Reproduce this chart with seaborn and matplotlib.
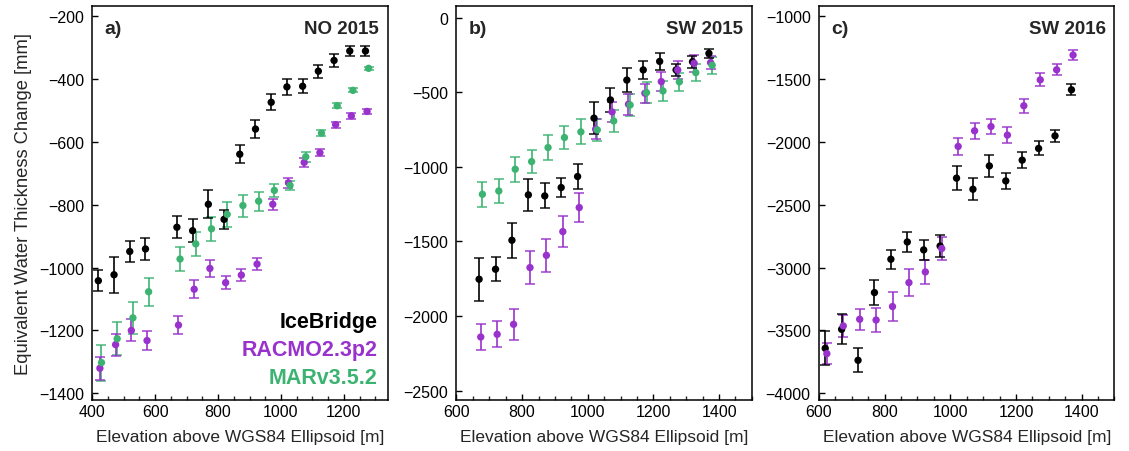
import numpy as np
import pandas as pd
import matplotlib
matplotlib.use("Agg")
import matplotlib.pyplot as plt
from matplotlib.ticker import MultipleLocator
import seaborn as sns

# ---- data ----
# panel a) NO 2015
elev_a = [425, 475, 525, 575, 675, 725, 775, 825, 875, 925, 975, 1025, 1075, 1125, 1175, 1225, 1275]
ice_a = [-1042, -1023, -949, -941, -872, -883, -799, -847, -640, -560, -475, -426, -424, -376, -342, -312, -312]
ice_a_err = [33, 58, 33, 35, 35, 37, 44, 29, 29, 29, 25, 25, 22, 21, 20, 16, 17]
rac_a = [-1320, -1245, -1200, -1232, -1183, -1069, -1003, -1048, -1024, -989, -799, -731, -666, -635, -546, -518, -504]
rac_a_err = [37, 35, 35, 31, 29, 28, 26, 21, 19, 19, 17, 15, 15, 12, 10, 10, 8]
mar_a = [-1302, -1226, -1160, -1077, -973, -925, -877, -831, -803, -789, -755, -739, -648, -573, -486, -437, -367]
mar_a_err = [57, 53, 50, 44, 39, 39, 39, 39, 35, 30, 20, 15, 16, 10, 8, 6, 5]

# panel b) SW 2015
elev_b = [675, 725, 775, 825, 875, 925, 975, 1025, 1075, 1125, 1175, 1225, 1275, 1325, 1375]
ice_b = [-1753, -1686, -1492, -1188, -1195, -1139, -1065, -674, -552, -419, -351, -294, -351, -296, -240]
ice_b_err = [145, 80, 117, 109, 84, 61, 86, 109, 79, 82, 60, 58, 41, 41, 29]
rac_b = [-2140, -2122, -2055, -1675, -1593, -1434, -1273, -748, -632, -581, -507, -429, -351, -306, -302]
rac_b_err = [87, 87, 103, 109, 109, 104, 95, 69, 69, 69, 65, 61, 58, 58, 45]
mar_b = [-1184, -1162, -1016, -965, -871, -804, -766, -753, -693, -586, -503, -492, -431, -369, -320]
mar_b_err = [83, 83, 85, 78, 83, 78, 83, 76, 74, 72, 69, 67, 59, 59, 56]

# panel c) SW 2016
elev_c = [625, 675, 725, 775, 825, 875, 925, 975, 1025, 1075, 1125, 1175, 1225, 1275, 1325, 1375]
ice_c = [-3642, -3491, -3737, -3199, -2934, -2797, -2860, -2829, -2290, -2378, -2193, -2312, -2147, -2054, -1954, -1588]
ice_c_err = [135, 119, 95, 99, 77, 80, 78, 86, 94, 86, 85, 66, 62, 56, 49, 44]
rac_c = [-3684, -3464, -3411, -3417, -3310, -3120, -3035, -2849, -2038, -1914, -1880, -1948, -1715, -1509, -1429, -1312]
rac_c_err = [86, 85, 85, 97, 113, 106, 95, 89, 70, 64, 62, 62, 57, 52, 45, 41]

colors = {"IceBridge": "black", "RACMO2.3p2": "#9932CC", "MARv3.5.2": "#3CB371"}
offsets = {"IceBridge": -6, "RACMO2.3p2": -1, "MARv3.5.2": 4}


def make_df(elev, series):
    rows = []
    for name, (vals, errs) in series.items():
        for e, v, s in zip(elev, vals, errs):
            rows.append({"elev": e + offsets[name], "ewt": v, "err": s, "source": name})
    return pd.DataFrame(rows)


panels = [
    ("a)", "NO 2015", make_df(elev_a, {"IceBridge": (ice_a, ice_a_err),
                                       "RACMO2.3p2": (rac_a, rac_a_err),
                                       "MARv3.5.2": (mar_a, mar_a_err)}),
     (400, 1340), (-1420, -170), 200),
    ("b)", "SW 2015", make_df(elev_b, {"IceBridge": (ice_b, ice_b_err),
                                       "RACMO2.3p2": (rac_b, rac_b_err),
                                       "MARv3.5.2": (mar_b, mar_b_err)}),
     (600, 1500), (-2560, 75), 500),
    ("c)", "SW 2016", make_df(elev_c, {"IceBridge": (ice_c, ice_c_err),
                                       "RACMO2.3p2": (rac_c, rac_c_err)}),
     (600, 1500), (-4050, -925), 500),
]

sns.set_theme(style="ticks")
plt.rcParams['font.family'] = ['Liberation Sans', 'DejaVu Sans']
plt.rcParams['axes.unicode_minus'] = True

fig = plt.figure(figsize=(11.29, 4.52), dpi=100)
lefts = [0.0818, 0.4043, 0.7254]
bottom, width, height = 0.1135, 0.2617, 0.8703

for i, (tag, title, df, xlim, ylim, ystep) in enumerate(panels):
    ax = fig.add_axes([lefts[i], bottom, width, height])
    for name in ["MARv3.5.2", "RACMO2.3p2", "IceBridge"]:
        sub = df[df.source == name]
        if sub.empty:
            continue
        ax.errorbar(sub.elev, sub.ewt, yerr=sub.err, fmt="none", ecolor=colors[name],
                    elinewidth=1.4, capsize=3.5, capthick=1.2, alpha=0.85, zorder=2)
    sns.scatterplot(data=df, x="elev", y="ewt", hue="source", palette=colors,
                    s=28, edgecolor="none", legend=False, ax=ax, zorder=3)
    ax.set_xlim(*xlim)
    ax.set_ylim(*ylim)
    ax.xaxis.set_major_locator(MultipleLocator(200))
    ax.xaxis.set_minor_locator(MultipleLocator(50))
    ax.yaxis.set_major_locator(MultipleLocator(ystep))
    ax.tick_params(axis="both", which="major", direction="in", length=4, width=1,
                   labelsize=11.5, colors="black")
    ax.tick_params(axis="x", which="major", pad=3)
    ax.tick_params(axis="y", which="major", pad=6)
    ax.tick_params(axis="x", which="minor", direction="in", length=3, width=1)
    for sp in ax.spines.values():
        sp.set_visible(True)
        sp.set_linewidth(1.1)
        sp.set_color("black")
    ax.set_xlabel("Elevation above WGS84 Ellipsoid [m]", fontsize=12.5, labelpad=7)
    ax.set_ylabel("")
    ax.text(0.04, 0.965, tag, transform=ax.transAxes, fontsize=14, fontweight="bold",
            ha="left", va="top")
    ax.text(0.97, 0.965, title, transform=ax.transAxes, fontsize=13.5, fontweight="bold",
            ha="right", va="top")
    if i == 0:
        ax.set_ylabel("Equivalent Water Thickness Change [mm]", fontsize=13.2, labelpad=5)
        for j, name in enumerate(["IceBridge", "RACMO2.3p2", "MARv3.5.2"]):
            ax.text(0.965, 0.2 - j * 0.0712, name, transform=ax.transAxes, fontsize=15.5,
                    fontweight="bold", color=colors[name], ha="right", va="center")

fig.savefig("out.png", dpi=100)
